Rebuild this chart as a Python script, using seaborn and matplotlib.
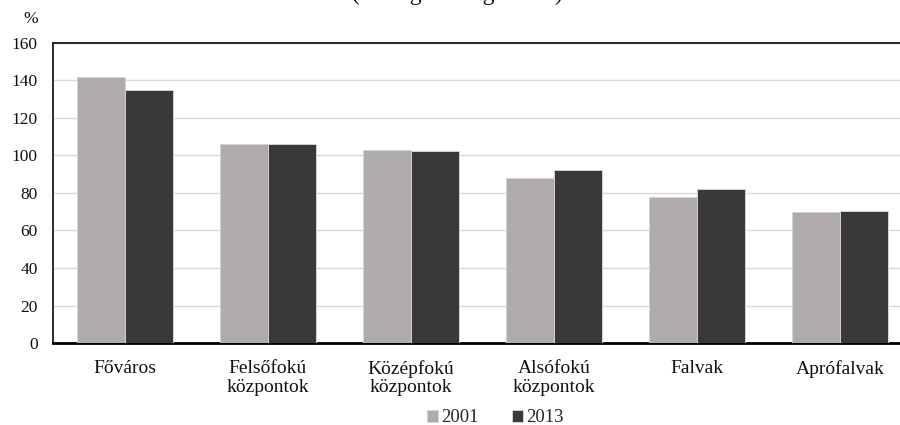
import matplotlib
matplotlib.use("Agg")
import matplotlib.pyplot as plt
import seaborn as sns
import pandas as pd

# Settlement categories and their values relative to the national average (=100)
categories = ["Főváros", "Felsőfokú\nközpontok", "Középfokú\nközpontok",
              "Alsófokú\nközpontok", "Falvak", "Aprófalvak"]
years = ["2001", "2013"]
values_2001 = [142.0, 106.0, 103.0, 88.0, 78.0, 69.8]
values_2013 = [134.8, 106.3, 102.4, 92.2, 82.3, 70.6]
y_ticks = [0, 20, 40, 60, 80, 100, 120, 140, 160]

df = pd.DataFrame({
    "kategoria": categories * 2,
    "ev": [years[0]] * len(categories) + [years[1]] * len(categories),
    "ertek": values_2001 + values_2013,
})

sns.set_theme(style="white")
plt.rcParams["font.family"] = ["Liberation Serif", "DejaVu Serif"]

fig = plt.figure(figsize=(9, 4.25), dpi=100)
ax = fig.add_axes([53 / 900, 1 - 343 / 425, 859 / 900, 300 / 425])

palette = {"2001": "#AFABAB", "2013": "#3B3838"}
sns.barplot(data=df, x="kategoria", y="ertek", hue="ev", palette=palette,
            width=0.67, gap=0, edgecolor="#d4d2d2", linewidth=0.7,
            saturation=1, ax=ax, legend=True, zorder=3)

ax.set_ylim(0, 160)
ax.set_yticks(y_ticks)
ax.set_xlim(-0.5, len(categories) - 0.5)
ax.yaxis.grid(True, color="#d9d9d9", linewidth=1.0, zorder=0)
ax.xaxis.grid(False)
ax.set_axisbelow(True)
ax.set_xlabel("")
ax.set_ylabel("")

ax.spines["right"].set_visible(False)
ax.spines["left"].set_color("#1a1a1a")
ax.spines["left"].set_linewidth(1.3)
ax.spines["top"].set_color("#1a1a1a")
ax.spines["top"].set_linewidth(1.3)
ax.spines["bottom"].set_color("black")
ax.spines["bottom"].set_linewidth(2.0)

ax.tick_params(axis="y", length=0, pad=11, labelsize=12.5, labelcolor="#111111")
ax.tick_params(axis="x", length=0, pad=12, labelsize=14, labelcolor="#111111")
for lbl in ax.get_xticklabels():
    lbl.set_linespacing(1.15)

fig.text(38 / 900, 1 - 19 / 425, "%", ha="right", va="center",
         fontsize=12.5, color="#111111")

# Chart subtitle sits at the very top edge
fig.text(457 / 900, 1.0, "(országos átlag = 100)", ha="center",
         va="baseline", fontsize=17, color="#111111")

handles, labels = ax.get_legend_handles_labels()
ax.get_legend().remove()
fig.legend(handles, labels, loc="lower center", bbox_to_anchor=(495 / 900, -0.03),
           ncol=2, frameon=False, fontsize=13.5, handlelength=0.6, handleheight=0.6,
           handletextpad=0.15, columnspacing=1.8, borderpad=0.1)

fig.savefig("out.png", dpi=100)
